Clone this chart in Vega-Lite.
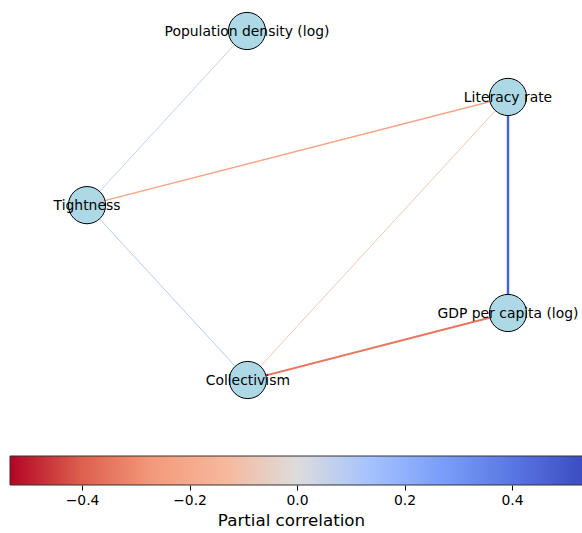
{
  "$schema": "https://vega.github.io/schema/vega-lite/v6.json",
  "padding": 0,
  "spacing": 15,
  "background": "white",
  "config": {"view": {"stroke": null}, "font": "DejaVu Sans"},
  "datasets": {
    "nodes": [
      {"node": "Population density (log)", "x": 0.380, "y": 1.0},
      {"node": "Literacy rate", "x": 1.0, "y": 0.811},
      {"node": "Tightness", "x": 0.0, "y": 0.501},
      {"node": "GDP per capita (log)", "x": 1.0, "y": 0.192},
      {"node": "Collectivism", "x": 0.382, "y": 0.0}
    ],
    "edges": [
      {"source": "Population density (log)", "target": "Tightness", "w": 0.09},
      {"source": "Tightness", "target": "Literacy rate", "w": -0.22},
      {"source": "Literacy rate", "target": "Collectivism", "w": -0.1},
      {"source": "Tightness", "target": "Collectivism", "w": 0.11},
      {"source": "Collectivism", "target": "GDP per capita (log)", "w": -0.35},
      {"source": "Literacy rate", "target": "GDP per capita (log)", "w": 0.47}
    ],
    "bar": [{"lo": -0.534, "hi": 0.534}]
  },
  "vconcat": [
    {
      "width": 582,
      "height": 440,
      "layer": [
        {
          "data": {"name": "edges"},
          "transform": [
            {"lookup": "source", "from": {"data": {"name": "nodes"}, "key": "node", "fields": ["x", "y"]}, "as": ["sx", "sy"]},
            {"lookup": "target", "from": {"data": {"name": "nodes"}, "key": "node", "fields": ["x", "y"]}, "as": ["tx", "ty"]}
          ],
          "mark": {"type": "rule"},
          "encoding": {
            "x": {"field": "sx", "type": "quantitative", "scale": {"domain": [-0.2067, 1.1758], "nice": false, "zero": false}, "axis": null},
            "y": {"field": "sy", "type": "quantitative", "scale": {"domain": [-0.1719, 1.0888], "nice": false, "zero": false}, "axis": null},
            "x2": {"field": "tx"},
            "y2": {"field": "ty"},
            "color": {
              "field": "w", "type": "quantitative", "legend": null,
              "scale": {
                "domain": [-0.534, -0.4005, -0.267, -0.1335, 0, 0.1335, 0.267, 0.4005, 0.534],
                "range": ["#b40426", "#dd604d", "#f49a7b", "#f7b89c", "#dddcdc", "#a5c3fe", "#7b9ff9", "#5977e3", "#3b4cc0"],
                "interpolate": "rgb"
              }
            },
            "strokeWidth": {
              "field": "w", "type": "quantitative", "legend": null,
              "scale": {"domain": [-0.534, 0, 0.534], "range": [2.7, 0.5, 2.7], "zero": false}
            }
          }
        },
        {
          "data": {"name": "nodes"},
          "mark": {"type": "circle", "size": 1385, "fill": "#add8e6", "stroke": "black", "strokeWidth": 1, "opacity": 1},
          "encoding": {
            "x": {"field": "x", "type": "quantitative"},
            "y": {"field": "y", "type": "quantitative"}
          }
        },
        {
          "data": {"name": "nodes"},
          "mark": {"type": "text", "font": "DejaVu Sans", "fontSize": 13.9, "color": "black", "align": "center", "baseline": "middle", "dy": 1},
          "encoding": {
            "x": {"field": "x", "type": "quantitative"},
            "y": {"field": "y", "type": "quantitative"},
            "text": {"field": "node"}
          }
        }
      ]
    },
    {
      "width": 582,
      "height": 29,
      "data": {"name": "bar"},
      "mark": {
        "type": "rect",
        "stroke": "#333333",
        "strokeWidth": 1,
        "fill": {
          "gradient": "linear", "x1": 0, "y1": 0, "x2": 1, "y2": 0,
          "stops": [
            {"offset": 0, "color": "#b40426"},
            {"offset": 0.125, "color": "#dd604d"},
            {"offset": 0.25, "color": "#f49a7b"},
            {"offset": 0.375, "color": "#f7b89c"},
            {"offset": 0.5, "color": "#dddcdc"},
            {"offset": 0.625, "color": "#a5c3fe"},
            {"offset": 0.75, "color": "#7b9ff9"},
            {"offset": 0.875, "color": "#5977e3"},
            {"offset": 1, "color": "#3b4cc0"}
          ]
        }
      },
      "encoding": {
        "x": {
          "field": "lo", "type": "quantitative",
          "scale": {"domain": [-0.5526, 0.5302], "nice": false, "zero": false},
          "axis": {
            "values": [-0.4, -0.2, 0, 0.2, 0.4], "format": ".1f",
            "domain": false, "grid": false,
            "tickSize": 5, "tickColor": "black", "tickWidth": 1,
            "labelFont": "DejaVu Sans", "labelFontSize": 13.9, "labelColor": "black", "labelPadding": 3,
            "title": "Partial correlation", "titleFont": "DejaVu Sans", "titleFontSize": 16.7, "titleFontWeight": "normal", "titleColor": "black", "titlePadding": 6
          }
        },
        "x2": {"field": "hi"}
      }
    }
  ]
}
